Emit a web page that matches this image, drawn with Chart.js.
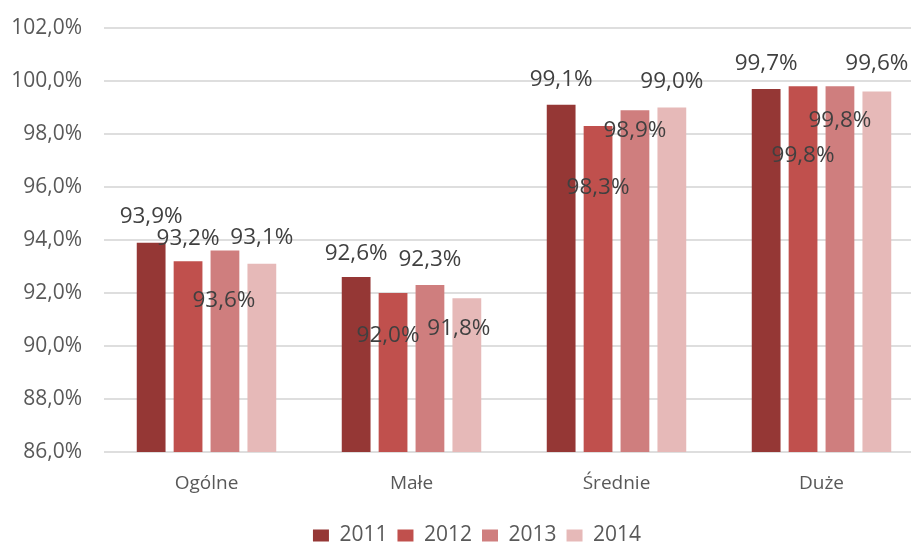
<!DOCTYPE html>
<html>
<head>
<meta charset="utf-8">
<script src="https://cdn.jsdelivr.net/npm/chart.js@4"></script>
<style>
    html, body { margin: 0; padding: 0; background: #fff; overflow: hidden; }
    #wrap { width: 954px; height: 556px; }
</style>
</head>
<body>
<div id="wrap"><canvas id="chart"></canvas></div>
<script>
// Kategorie i serie (w %)
const categories = ['Ogólne', 'Małe', 'Średnie', 'Duże'];
const years = ['2011', '2012', '2013', '2014'];
const values2011 = [93.9, 92.6, 99.1, 99.7];
const values2012 = [93.2, 92.0, 98.3, 99.8];
const values2013 = [93.6, 92.3, 98.9, 99.8];
const values2014 = [93.1, 91.8, 99.0, 99.6];
const colors = ['#953735', '#C0504D', '#CF7E7E', '#E6B9B8'];

// przesunięcie etykiet względem wierzchołka słupka (px)
const labelDy = [
    [-26, -24, -25, -25],
    [-23, 43, 62, 69],
    [50, -25, 20, 34],
    [-26, 30, -26, -28]
];
const labelDx = [
    [0, 0, 0, 0],
    [0, -5, 0, 0],
    [-1, 0, 0, 0],
    [0, -8, 0, 0]
];

const fmt = v => v.toFixed(1).replace('.', ',') + '%';
const FONT = '"Open Sans", "Liberation Sans", sans-serif';

// Etykiety wartości nad / na słupkach
const valueLabels = {
    id: 'valueLabels',
    afterDatasetsDraw(chart) {
        const ctx = chart.ctx;
        ctx.save();
        ctx.font = '22.5px ' + FONT;
        ctx.fillStyle = '#404040';
        ctx.textAlign = 'center';
        ctx.textBaseline = 'middle';
        chart.data.datasets.forEach((ds, i) => {
            chart.getDatasetMeta(i).data.forEach((bar, j) => {
                ctx.fillText(fmt(ds.data[j]), bar.x + labelDx[i][j], bar.y + labelDy[i][j]);
            });
        });
        ctx.restore();
    }
};

// legenda wyśrodkowana na całym wykresie (z osią), nie tylko na obszarze
const legendShift = {
    id: 'legendShift',
    afterLayout(chart) {
        chart.legend.left += 15;
        chart.legend.right += 15;
    }
};

const seriesValues = [values2011, values2012, values2013, values2014];

new Chart(document.getElementById('chart'), {
    type: 'bar',
    data: {
        labels: categories,
        datasets: years.map((y, i) => ({
            label: y,
            data: seriesValues[i],
            backgroundColor: colors[i],
            barPercentage: 0.78,
            categoryPercentage: 0.72
        }))
    },
    options: {
        responsive: true,
        maintainAspectRatio: false,
        animation: false,
        layout: { padding: { top: 28, right: 30, left: 0, bottom: 0 } },
        plugins: {
            legend: {
                position: 'bottom',
                labels: {
                    boxWidth: 16,
                    boxHeight: 12,
                    padding: 10,
                    color: '#595959',
                    font: { family: FONT, size: 21 }
                }
            },
            tooltip: { enabled: false }
        },
        scales: {
            x: {
                afterFit(scale) { scale.height = 63; },
                grid: { display: false, drawTicks: false },
                border: { display: false },
                ticks: {
                    color: '#595959',
                    padding: 20,
                    font: { family: FONT, size: 19 }
                }
            },
            y: {
                min: 86,
                max: 102,
                afterFit(scale) {
                    scale.width = 104;
                    scale.paddingTop = 0;
                },
                grid: { color: '#dedede', lineWidth: 2, drawTicks: false },
                border: { display: false },
                ticks: {
                    stepSize: 2,
                    padding: 22,
                    color: '#595959',
                    font: { family: FONT, size: 21 },
                    callback: v => fmt(v)
                }
            }
        }
    },
    plugins: [valueLabels, legendShift]
});
</script>
</body>
</html>
